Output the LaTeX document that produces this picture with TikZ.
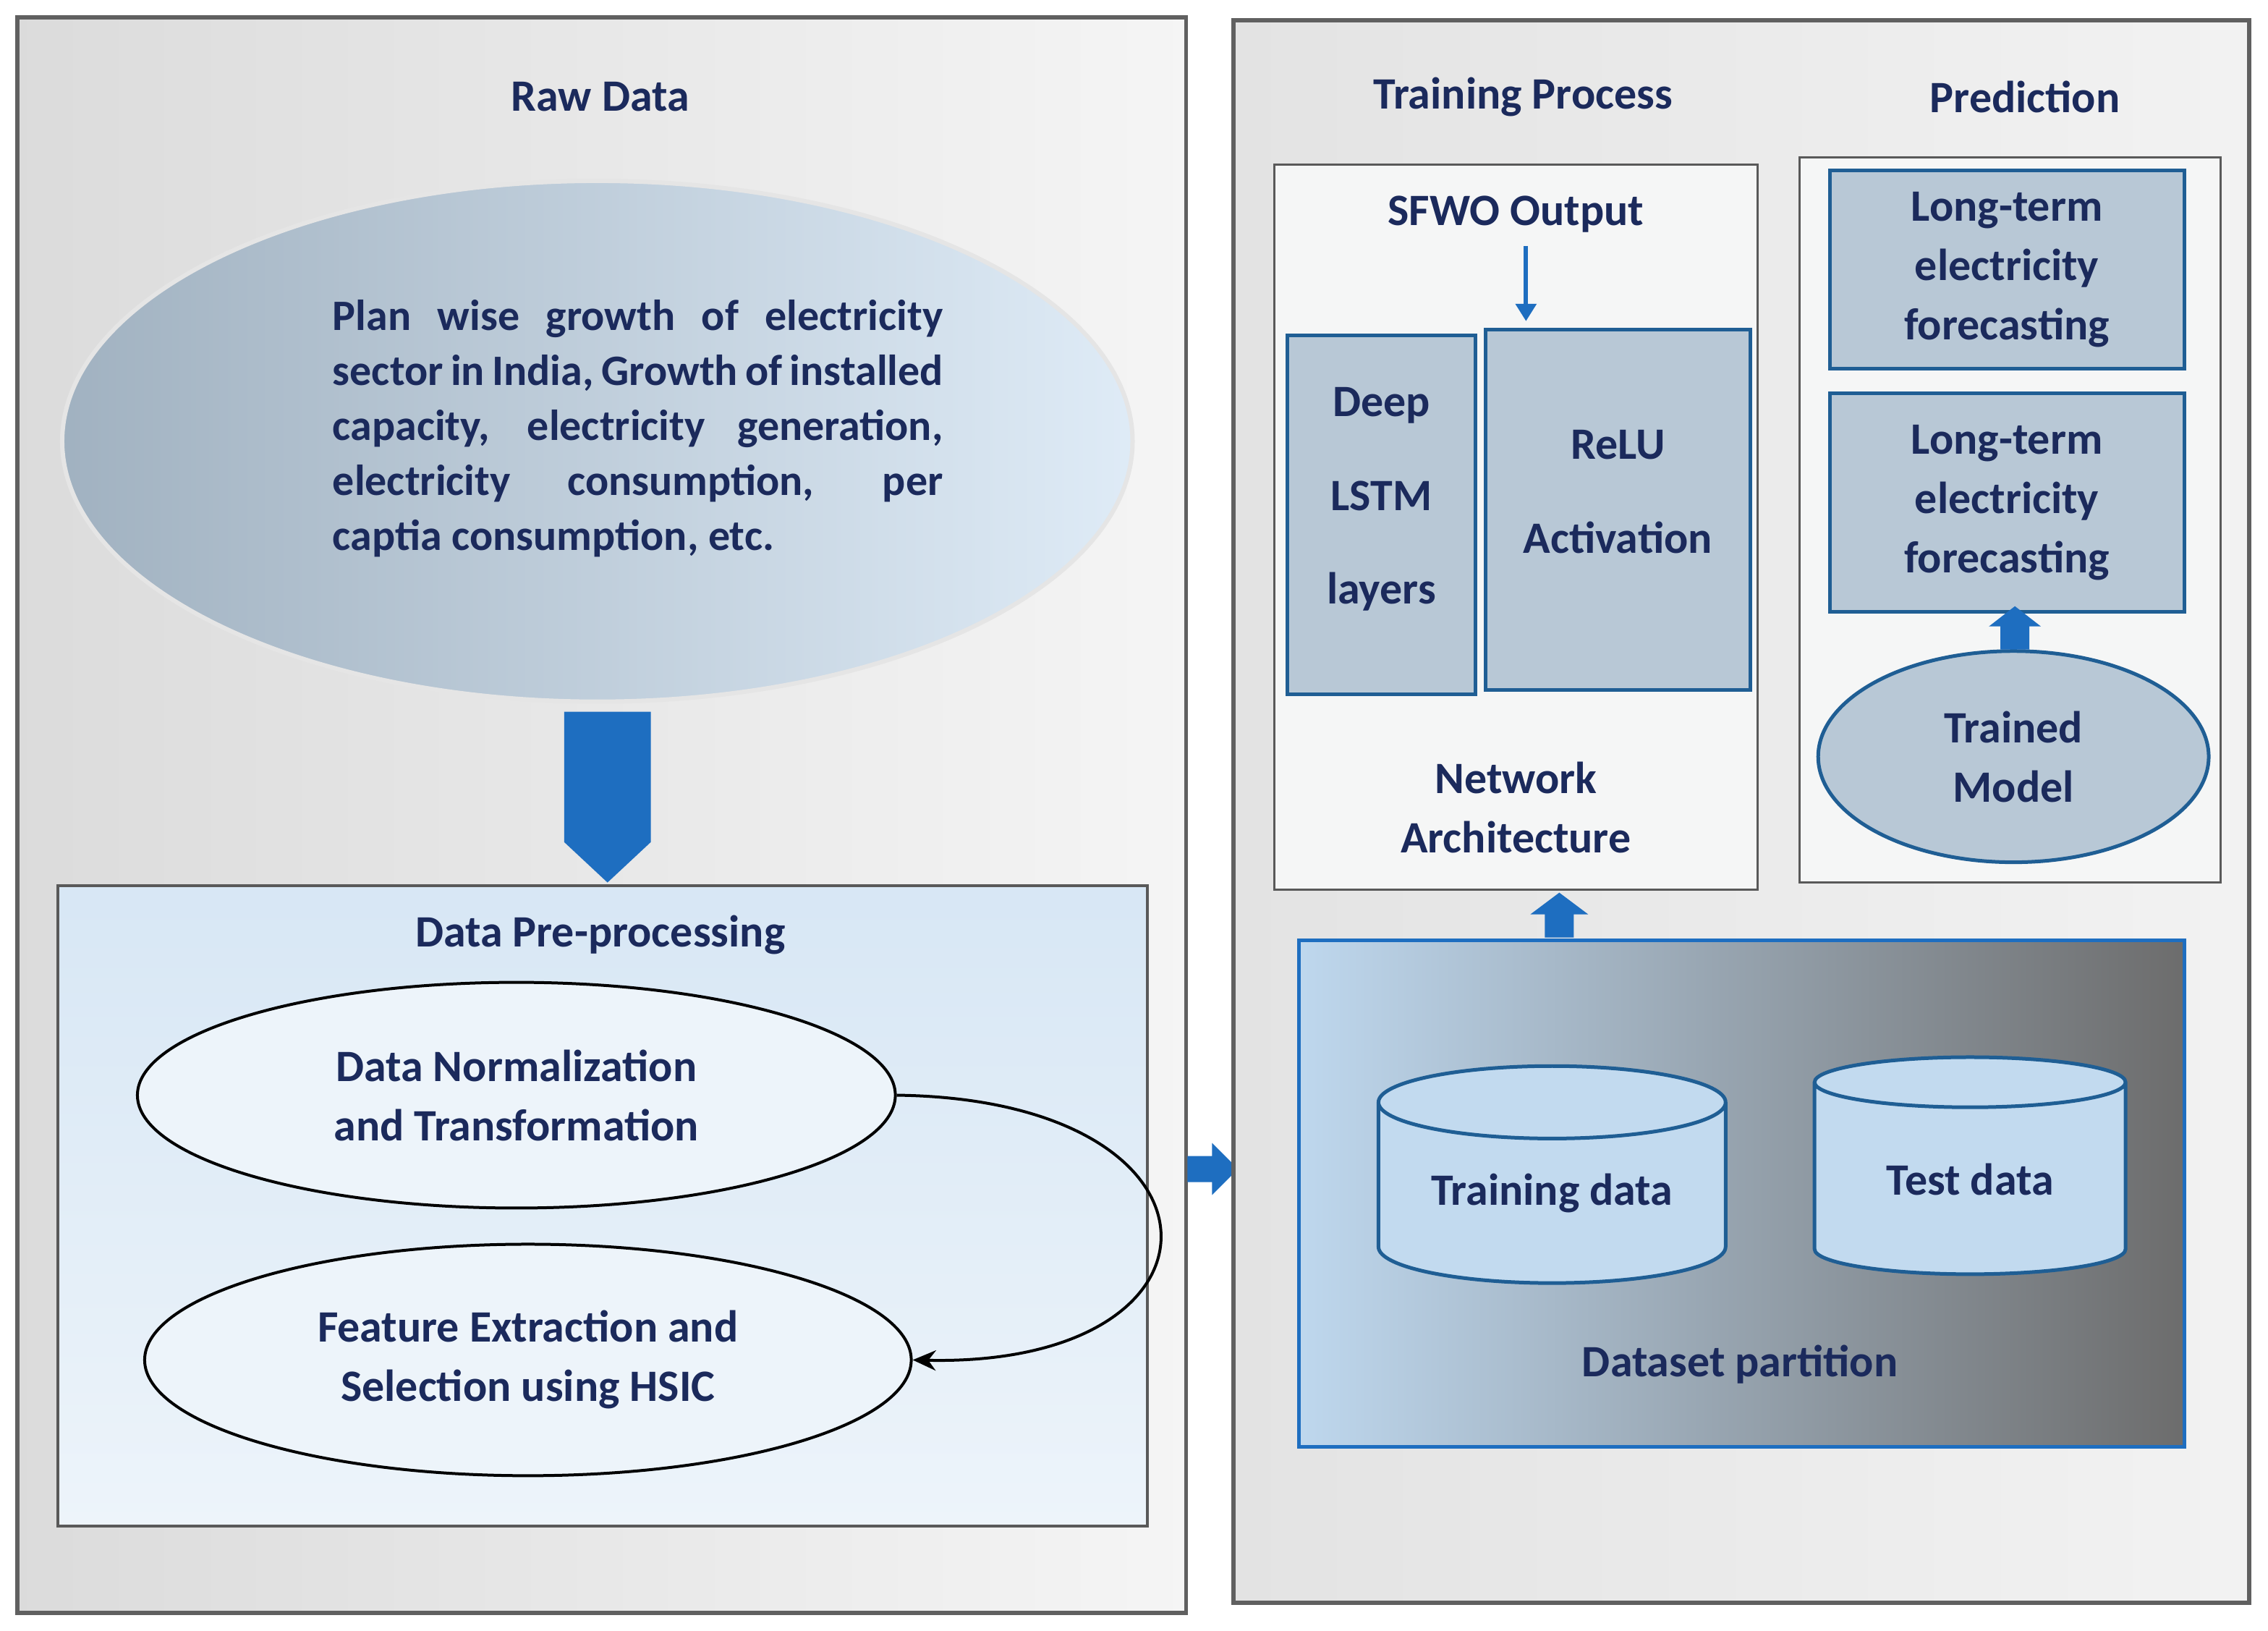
\documentclass[tikz,border=0pt]{standalone}
\usepackage{fontspec}
\setmainfont{Carlito}
\usetikzlibrary{shapes.geometric,arrows.meta}
\definecolor{txt}{HTML}{1B2A5C}
\definecolor{ablue}{HTML}{1E6EC0}
\definecolor{bbord}{HTML}{1F5E94}
\definecolor{lblue}{HTML}{B7D3EC}
\begin{document}
\begin{tikzpicture}[x=1pt,y=-1pt,
  lbl/.style={text=txt,font=\bfseries\fontsize{31}{41}\selectfont,align=center},
  panel/.style={draw=gray!75!black,line width=3pt},
  inbox/.style={draw=gray!70!black,line width=1.5pt,fill=lblue!12!gray!8},
  bluebox/.style={draw=bbord,line width=2.5pt,fill=lblue!70!gray!80},
  barrow/.style={fill=ablue,draw=none}]
\useasboundingbox (0,0) rectangle (1568,1127);
\fill[white] (0,0) rectangle (1568,1127);
% left panel
\node[panel,left color=gray!28,right color=gray!8,minimum width=808,minimum height=1103,inner sep=0] (lp) at (416,563.5) {};
\node[lbl] (raw) at (415,67) {Raw Data};
\node[ellipse,draw=gray!20,line width=3pt,shading angle=135,left color=lblue!60!gray,right color=lblue!45,minimum width=740,minimum height=360] (big) at (413,305) {};
\node[text=txt,font=\bfseries\fontsize{30}{38}\selectfont,text width=422,align=justify,inner sep=0] (bigt) at (441,296) {\hyphenpenalty=10000 Plan wise growth of electricity\linebreak sector in India, Growth of installed\linebreak capacity, electricity generation,\linebreak electricity consumption, per\linebreak captia consumption, etc.};
\path[barrow] (390,492) -- (450,492) -- (450,582) -- (420,610) -- (390,582) -- cycle;
\node[draw=gray!70!black,line width=2pt,top color=lblue!55,bottom color=lblue!25,minimum width=753,minimum height=443,inner sep=0] (pre) at (416.5,833.5) {};
\node[lbl] (pret) at (415,646) {Data Pre-processing};
\node[ellipse,draw=black,line width=2pt,fill=lblue!25,minimum width=524,minimum height=156,lbl] (e1) at (357,757) {Data Normalization\\and Transformation};
\node[ellipse,draw=black,line width=2pt,fill=lblue!25,minimum width=530,minimum height=160,lbl] (e2) at (365,940) {Feature Extraction and\\Selection using HSIC};
\draw[line width=2pt,-{Stealth[length=16pt,width=14pt]}] (e1.east) .. controls (860,760) and (860,945) .. (e2.east);
\path[barrow] (821,799) -- (838,799) -- (838,790) -- (856,808) -- (838,826) -- (838,817) -- (821,817) -- cycle;
% right panel
\node[panel,left color=gray!22,right color=gray!10,minimum width=702,minimum height=1094,inner sep=0] (rp) at (1204,561) {};
\node[lbl] (trt) at (1053,67) {Training Process};
\node[lbl] (prt) at (1400,67) {Prediction};
\node[inbox,minimum width=334,minimum height=501,inner sep=0] (net) at (1048,364.5) {};
\node[lbl] (sfwo) at (1048,148) {SFWO Output};
\coordinate (sa) at (1055,170);
\coordinate (sb) at (1055,222);
\draw[ablue,line width=3pt,-{Triangle[length=12pt,width=14pt]}] (sa) -- (sb);
\node[bluebox,minimum width=130,minimum height=248,inner sep=0] (lstm) at (955,356) {};
\node[lbl,font=\bfseries\fontsize{31}{65}\selectfont] (lstmt) at (955,345) {Deep\\LSTM\\layers};
\node[bluebox,minimum width=183,minimum height=249,inner sep=0] (relu) at (1118.5,352.5) {};
\node[lbl,font=\bfseries\fontsize{31}{65}\selectfont] (relut) at (1118.5,340) {ReLU\\Activation};
\node[lbl] (nett) at (1048,558) {Network\\Architecture};
\node[inbox,minimum width=291,minimum height=501,inner sep=0] (pred) at (1389.5,359.5) {};
\node[bluebox,lbl,minimum width=245,minimum height=137,inner sep=0] (f1) at (1387.5,186.5) {Long-term\\electricity\\forecasting};
\node[bluebox,lbl,minimum width=245,minimum height=151,inner sep=0] (f2) at (1387.5,347.5) {Long-term\\electricity\\forecasting};
\node[ellipse,bluebox,lbl,minimum width=270,minimum height=146] (tm) at (1392,523) {Trained\\Model};
\path[barrow] (1383,449) -- (1403,449) -- (1403,433) -- (1411,433) -- (1393,419) -- (1375,433) -- (1383,433) -- cycle;
\path[barrow] (1068,648) -- (1088,648) -- (1088,632) -- (1098,632) -- (1078,617) -- (1058,632) -- (1068,632) -- cycle;
\node[draw=ablue,line width=2.5pt,shading angle=-30,left color=lblue!90,right color=gray!85!black,minimum width=612,minimum height=350,inner sep=0] (ds) at (1204,825) {};
\node[cylinder,shape border rotate=90,aspect=0.3,draw=bbord,line width=2.5pt,fill=lblue!85,minimum width=240,minimum height=150,inner sep=0,lbl] (trd) at (1073,825) {Training data};
\node[cylinder,shape border rotate=90,aspect=0.3,draw=bbord,line width=2.5pt,fill=lblue!85,minimum width=215,minimum height=150,inner sep=0,lbl] (ted) at (1362,815) {Test data};
\node[lbl] (dst) at (1203,943) {Dataset partition};
\end{tikzpicture}
\end{document}
